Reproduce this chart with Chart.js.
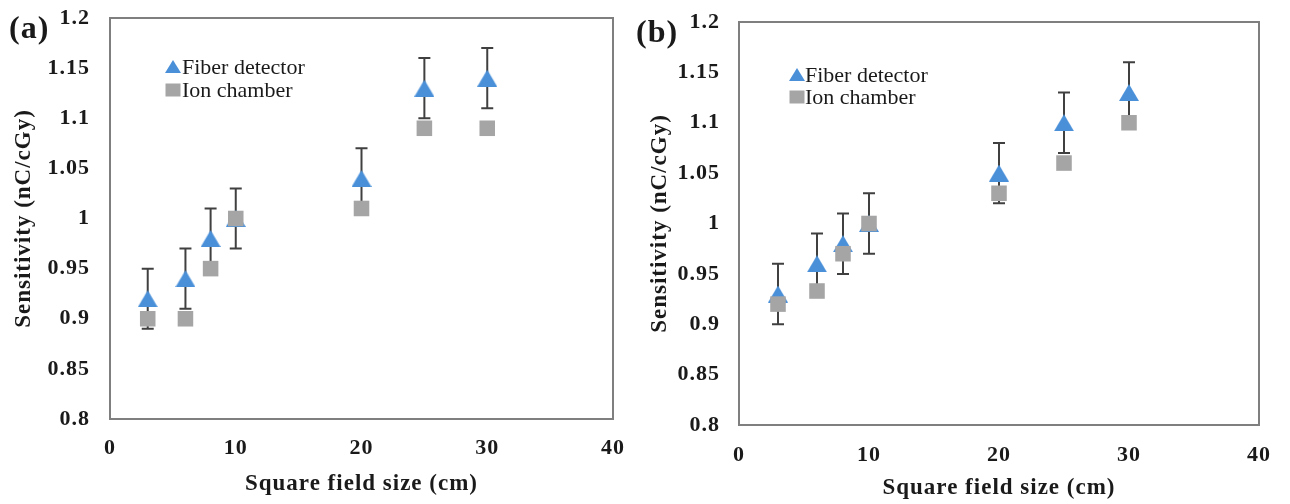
<!DOCTYPE html>
<html><head><meta charset="utf-8">
<script src="https://cdn.jsdelivr.net/npm/chart.js@4.4.1/dist/chart.umd.min.js"></script>
<style>
html,body{margin:0;padding:0;background:#fff;width:1290px;height:504px;overflow:hidden;}
.wrap{position:absolute;top:0;height:504px;}
.lbl{position:absolute;font-family:"Liberation Serif","Times New Roman",serif;font-weight:bold;color:#1a1a1a;font-size:32px;line-height:32px;letter-spacing:1px;}
</style></head><body>
<div class="wrap" style="left:0;width:640px"><canvas id="ca" width="640" height="504"></canvas></div>
<div class="wrap" style="left:620px;width:670px"><canvas id="cb" width="670" height="504"></canvas></div>
<div class="lbl" style="left:9px;top:11px">(a)</div>
<div class="lbl" style="left:636px;top:15px">(b)</div>
<script>
// ---- data ----
const fieldSizes = [3, 6, 8, 10, 20, 25, 30];
const fiberA = [0.92, 0.94, 0.98, 1.00, 1.04, 1.13, 1.14];
const ionA   = [0.90, 0.90, 0.95, 1.00, 1.01, 1.09, 1.09];
const errA   = [0.03, 0.03, 0.03, 0.03, 0.03, 0.03, 0.03];
const fiberB = [0.93, 0.96, 0.98, 1.00, 1.05, 1.10, 1.13];
const ionB   = [0.92, 0.933, 0.97, 1.00, 1.03, 1.06, 1.10];
const errB   = [0.03, 0.03, 0.03, 0.03, 0.03, 0.03, 0.03];
const xTickLabels = ['0', '10', '20', '30', '40'];
const yTickLabels = ['0.8', '0.85', '0.9', '0.95', '1', '1.05', '1.1', '1.15', '1.2'];
const seriesNames = ['Fiber detector', 'Ion chamber'];
const xTitle = 'Square field size (cm)';
const yTitle = 'Sensitivity (nC/cGy)';

const SERIF = "'Liberation Serif','Times New Roman',serif";
const BLUE = '#4a90d9', GRAY = '#a5a5a5', TXT = '#1a1a1a';

// triangle marker centred on its bounding box (as in the original)
function triangleImage(w, h, color) {
  const c = document.createElement('canvas');
  c.width = w; c.height = h;
  const x = c.getContext('2d');
  x.fillStyle = color;
  x.beginPath();
  x.moveTo(w / 2, 0); x.lineTo(w, h); x.lineTo(0, h); x.closePath();
  x.fill();
  return c;
}
const triMarker = triangleImage(20, 17, BLUE);

const spacing = {
  id: 'spacing',
  beforeDraw(chart) { chart.ctx.letterSpacing = '1px'; }
};

const errorBars = {
  id: 'errorBars',
  beforeDatasetsDraw(chart) {
    const {ctx, scales: {x, y}} = chart;
    chart.data.datasets.forEach(ds => {
      if (!ds.errors) return;
      ctx.save();
      ctx.strokeStyle = '#404040';
      ctx.lineWidth = 2;
      ds.data.forEach((p, i) => {
        const e = ds.errors[i];
        const px = x.getPixelForValue(p.x);
        const t = y.getPixelForValue(p.y + e), b = y.getPixelForValue(p.y - e);
        ctx.beginPath();
        ctx.moveTo(px, t); ctx.lineTo(px, b);
        ctx.moveTo(px - 6, t); ctx.lineTo(px + 6, t);
        ctx.moveTo(px - 6, b); ctx.lineTo(px + 6, b);
        ctx.stroke();
      });
      ctx.restore();
    });
  }
};

const frame = {
  id: 'frame',
  afterDraw(chart) {
    const {ctx, chartArea: a} = chart;
    ctx.save();
    ctx.strokeStyle = '#7f7f7f';
    ctx.lineWidth = 2;
    ctx.strokeRect(a.left, a.top, a.right - a.left, a.bottom - a.top);
    ctx.restore();
  }
};

const innerLegend = {
  id: 'innerLegend',
  afterDraw(chart, args, o) {
    const {ctx, chartArea: a} = chart;
    ctx.save();
    ctx.letterSpacing = '0px';
    chart.data.datasets.forEach((ds, i) => {
      const cx = a.left + o.dx, cy = a.top + o.dy[i];
      ctx.fillStyle = ds.backgroundColor;
      ctx.beginPath();
      if (ds.marker === 'triangle') {
        ctx.moveTo(cx, cy - 7); ctx.lineTo(cx + 8, cy + 6); ctx.lineTo(cx - 8, cy + 6); ctx.closePath();
      } else {
        ctx.rect(cx - 7.5, cy - 6.5, 15, 13);
      }
      ctx.fill();
      ctx.fillStyle = TXT;
      ctx.font = "22px " + SERIF;
      ctx.textBaseline = 'middle';
      ctx.textAlign = 'left';
      ctx.fillText(ds.label, cx + o.tx, cy + 1);
    });
    ctx.restore();
  }
};

function makeChart(id, fiber, ion, err, g) {
  const pts = arr => fieldSizes.map((x, i) => ({x: x, y: arr[i]}));
  return new Chart(document.getElementById(id), {
    type: 'scatter',
    data: {
      datasets: [
        {label: seriesNames[0], data: pts(fiber), errors: err, marker: 'triangle', pointStyle: triMarker,
         backgroundColor: BLUE, borderColor: BLUE, pointRadius: 11, pointBorderWidth: 0, order: 1},
        {label: seriesNames[1], data: pts(ion), marker: 'rect', pointStyle: 'rect',
         backgroundColor: GRAY, borderColor: GRAY, pointRadius: 11, pointBorderWidth: 0, order: 0}
      ]
    },
    options: {
      responsive: false,
      animation: false,
      events: [],
      layout: {padding: {top: g.padTop, right: g.padRight, left: 0, bottom: 0}},
      plugins: {
        legend: {display: false},
        tooltip: {enabled: false},
        innerLegend: g.legend
      },
      scales: {
        x: {
          type: 'linear', min: 0, max: 40,
          afterFit(s) { s.height = g.xHeight; },
          grid: {display: false, drawTicks: false},
          border: {display: false},
          ticks: {stepSize: 10, padding: g.xTickPad, color: TXT, autoSkip: false,
                  font: {family: SERIF, size: 22, weight: 'bold'},
                  callback: (v, i) => xTickLabels[i]},
          title: {display: true, text: xTitle, color: TXT, padding: {top: 0, bottom: g.xTitlePad},
                  font: {family: SERIF, size: 23, weight: 'bold'}}
        },
        y: {
          type: 'linear', min: 0.8, max: 1.2,
          afterFit(s) { s.width = g.yWidth; s.paddingTop = 0; s.paddingBottom = 0; },
          grid: {display: false, drawTicks: false},
          border: {display: false},
          ticks: {stepSize: 0.05, padding: g.yTickPad, color: TXT, autoSkip: false,
                  font: {family: SERIF, size: 22, weight: 'bold'},
                  callback: (v, i) => yTickLabels[i]},
          title: {display: true, text: yTitle, color: TXT, padding: {top: g.yTitlePad, bottom: 0},
                  font: {family: SERIF, size: 23, weight: 'bold'}}
        }
      }
    },
    plugins: [spacing, errorBars, frame, innerLegend]
  });
}

makeChart('ca', fiberA, ionA, errA, {
  padTop: 18, padRight: 26, yWidth: 110, xHeight: 85,
  xTickPad: 16, yTickPad: 20, xTitlePad: 6, yTitlePad: 10,
  legend: {dx: 63, dy: [49, 72], tx: 9}
});
makeChart('cb', fiberB, ionB, errB, {
  padTop: 22, padRight: 31, yWidth: 119, xHeight: 79,
  xTickPad: 17, yTickPad: 19, xTitlePad: 2, yTitlePad: 26,
  legend: {dx: 58, dy: [53, 75], tx: 8}
});
</script>
</body></html>
